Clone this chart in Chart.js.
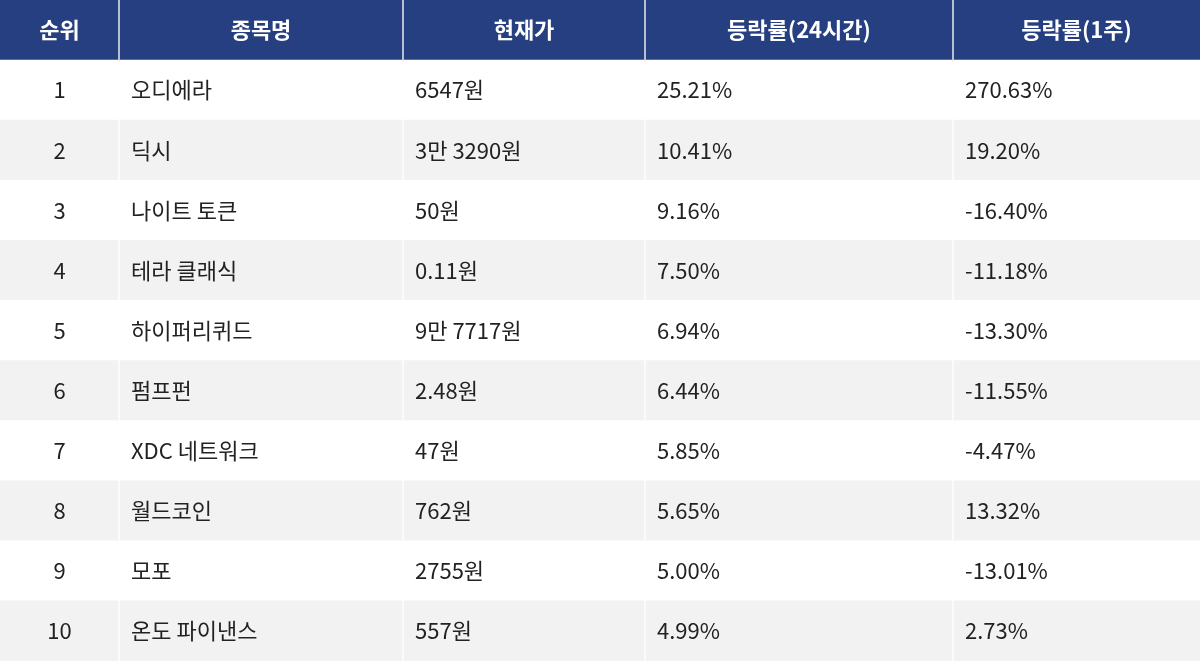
<!DOCTYPE html>
<html><head><meta charset="utf-8">
<script src="https://cdn.jsdelivr.net/npm/chart.js@4"></script>
<style>html,body{margin:0;padding:0;background:#fff}#w{width:1200px;height:661px}</style>
</head><body><div id="w"><canvas id="c"></canvas></div>
<script>
const headers = ['순위','종목명','현재가','등락률(24시간)','등락률(1주)'];
const ranks = ['1','2','3','4','5','6','7','8','9','10'];
const names = ['오디에라','딕시','나이트 토큰','테라 클래식','하이퍼리퀴드','펌프펀','XDC 네트워크','월드코인','모포','온도 파이낸스'];
const prices = ['6547원','3만 3290원','50원','0.11원','9만 7717원','2.48원','47원','762원','2755원','557원'];
const change24h = ['25.21%','10.41%','9.16%','7.50%','6.94%','6.44%','5.85%','5.65%','5.00%','4.99%'];
const change1w = ['270.63%','19.20%','-16.40%','-11.18%','-13.30%','-11.55%','-4.47%','13.32%','-13.01%','2.73%'];

const colEdges = [0,119,403,645,953,1200];
const columns = [ranks,names,prices,change24h,change1w];
const rowLabels = ['h'].concat(ranks);
const NAVY = '#263f80', GRAY = '#f2f2f2';

const datasets = colEdges.slice(0,-1).map((x0,ci)=>({
  data: rowLabels.map(()=>[x0+(ci?1:0), colEdges[ci+1]-(ci<4?1:0)]),
  backgroundColor: rowLabels.map((r,ri)=> ri===0?NAVY:(ri%2===0?GRAY:'#ffffff')),
  borderWidth:0, barPercentage:1, categoryPercentage:1, grouped:false
}));

const textPlugin = {
  id:'txt',
  afterDatasetsDraw(chart){
    const ctx = chart.ctx, xs = chart.scales.x, ys = chart.scales.y;
    ctx.save(); ctx.textBaseline='middle';
    rowLabels.forEach((r,ri)=>{
      const y = ys.getPixelForValue(ri);
      for(let ci=0;ci<5;ci++){
        const x0 = xs.getPixelForValue(colEdges[ci]), x1 = xs.getPixelForValue(colEdges[ci+1]);
        let t;
        if(ri===0){ t=headers[ci]; ctx.fillStyle='#fff'; ctx.font='bold 22px "Noto Sans CJK KR"'; ctx.textAlign='center'; ctx.fillText(t,(x0+x1)/2,y); continue; }
        t = columns[ci][ri-1]; ctx.fillStyle='#222'; ctx.font='22px "Noto Sans CJK KR"';
        if(ci===0){ ctx.textAlign='center'; ctx.fillText(t,(x0+x1)/2,y); }
        else { ctx.textAlign='left'; ctx.fillText(t,x0+12,y); }
      }
    });
    ctx.restore();
  }
};

new Chart(document.getElementById('c'),{
  type:'bar',
  data:{labels:rowLabels,datasets},
  options:{
    indexAxis:'y', responsive:true, maintainAspectRatio:false, animation:false,
    layout:{padding:0},
    plugins:{legend:{display:false},tooltip:{enabled:false}},
    scales:{
      x:{type:'linear',min:0,max:1200,display:false},
      y:{display:false,grid:{display:false}}
    }
  },
  plugins:[textPlugin]
});
</script></body></html>
